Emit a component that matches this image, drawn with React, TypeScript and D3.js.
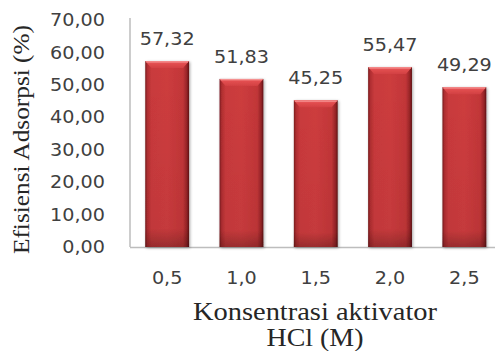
import React from "react";
import * as d3 from "d3";

const categories = ["0,5", "1,0", "1,5", "2,0", "2,5"];
const values = [57.32, 51.83, 45.25, 55.47, 49.29];
const yTicks = [0, 10, 20, 30, 40, 50, 60, 70];
const yTitle = "Efisiensi Adsorpsi (%)";
const xTitleLines = ["Konsentrasi aktivator", "HCl (M)"];

const W = 495;
const H = 351;
const left = 130;
const right = 501.5;
const top = 20;
const bottom = 247;

const fmt = (v: number) => v.toFixed(2).replace(".", ",");

export default function App() {
  const x = d3
    .scaleBand<string>()
    .domain(categories)
    .range([left, right])
    .paddingInner(0.41)
    .paddingOuter(0.205);
  const y = d3.scaleLinear().domain([0, 70]).range([bottom, top]);
  const bw = x.bandwidth();
  const sans = "'DejaVu Sans', Verdana, sans-serif";
  const serif = "'Liberation Serif', 'Times New Roman', serif";

  return (
    <svg
      width={W}
      height={H}
      style={{ position: "absolute", left: 0, top: 0, background: "#fff" }}
    >
      <defs>
        <linearGradient id="barBody" x1="0" x2="1" y1="0" y2="0">
          <stop offset="0%" stopColor="#7a1c1e" />
          <stop offset="5%" stopColor="#b02e31" />
          <stop offset="14%" stopColor="#c93a3c" />
          <stop offset="50%" stopColor="#cd3c3e" />
          <stop offset="86%" stopColor="#c23638" />
          <stop offset="95%" stopColor="#962427" />
          <stop offset="100%" stopColor="#5e1214" />
        </linearGradient>
        <linearGradient id="barShade" x1="0" x2="0" y1="0" y2="1">
          <stop offset="0%" stopColor="#000" stopOpacity={0} />
          <stop offset="90%" stopColor="#000" stopOpacity={0.04} />
          <stop offset="100%" stopColor="#000" stopOpacity={0.25} />
        </linearGradient>
        <linearGradient id="barTop" x1="0" x2="0" y1="0" y2="1">
          <stop offset="0%" stopColor="#f07070" />
          <stop offset="35%" stopColor="#e24e50" />
          <stop offset="100%" stopColor="#d24042" />
        </linearGradient>
        <filter id="shadow" x="-20%" y="-10%" width="140%" height="120%">
          <feGaussianBlur in="SourceAlpha" stdDeviation="1.6" />
          <feOffset dx="1" dy="1" result="b" />
          <feComponentTransfer>
            <feFuncA type="linear" slope="0.35" />
          </feComponentTransfer>
          <feMerge>
            <feMergeNode />
            <feMergeNode in="SourceGraphic" />
          </feMerge>
        </filter>
      </defs>

      {/* axis lines */}
      <line x1={left} x2={left} y1={top - 2} y2={bottom} stroke="#bdbdbd" strokeWidth={1.5} />
      <line x1={left} x2={W} y1={bottom + 0.5} y2={bottom + 0.5} stroke="#bdbdbd" strokeWidth={1.5} />

      {/* y tick labels */}
      {yTicks.map((t) => (
        <text
          key={t}
          transform={`translate(105,${y(t)}) scale(1.13,1)`}
          textAnchor="end"
          dominantBaseline="central"
          fontFamily={sans}
          fontSize={17}
          fill="#404040"
        >
          {fmt(t)}
        </text>
      ))}

      {/* bars */}
      {categories.map((c, i) => {
        const x0 = x(c)!;
        const y0 = y(values[i]);
        const h = bottom - y0;
        const bev = 6;
        return (
          <g key={c} filter="url(#shadow)">
            <rect x={x0} y={y0} width={bw} height={h} fill="url(#barBody)" />
            <rect x={x0} y={y0} width={bw} height={h} fill="url(#barShade)" />
            <polygon
              points={`${x0},${y0} ${x0 + bw},${y0} ${x0 + bw - bev},${y0 + bev + 1} ${x0 + bev},${y0 + bev + 1}`}
              fill="url(#barTop)"
            />
            <line x1={x0 + 1} x2={x0 + bw - 1} y1={y0 + 0.8} y2={y0 + 0.8} stroke="#f59090" strokeWidth={1.2} />
          </g>
        );
      })}

      {/* value labels */}
      {categories.map((c, i) => (
        <text
          key={c}
          transform={`translate(${x(c)! + bw / 2},${y(values[i]) - 22}) scale(1.13,1)`}
          textAnchor="middle"
          dominantBaseline="central"
          fontFamily={sans}
          fontSize={17}
          fill="#404040"
        >
          {fmt(values[i])}
        </text>
      ))}

      {/* category labels */}
      {categories.map((c) => (
        <text
          key={c}
          transform={`translate(${x(c)! + bw / 2},278) scale(1.13,1)`}
          textAnchor="middle"
          dominantBaseline="central"
          fontFamily={sans}
          fontSize={17}
          fill="#404040"
        >
          {c}
        </text>
      ))}

      {/* axis titles */}
      <text
        transform={`translate(29,${(25 + 254) / 2}) rotate(-90)`}
        textAnchor="middle"
        fontFamily={serif}
        fontSize={24}
        fill="#262626"
        textLength={229}
        lengthAdjust="spacingAndGlyphs"
      >
        {yTitle}
      </text>
      {xTitleLines.map((line, i) => (
        <text
          key={line}
          x={315}
          y={320 + i * 26}
          textAnchor="middle"
          fontFamily={serif}
          fontSize={25}
          fill="#262626"
          textLength={i === 0 ? 244 : 97}
          lengthAdjust="spacingAndGlyphs"
        >
          {line}
        </text>
      ))}
    </svg>
  );
}
